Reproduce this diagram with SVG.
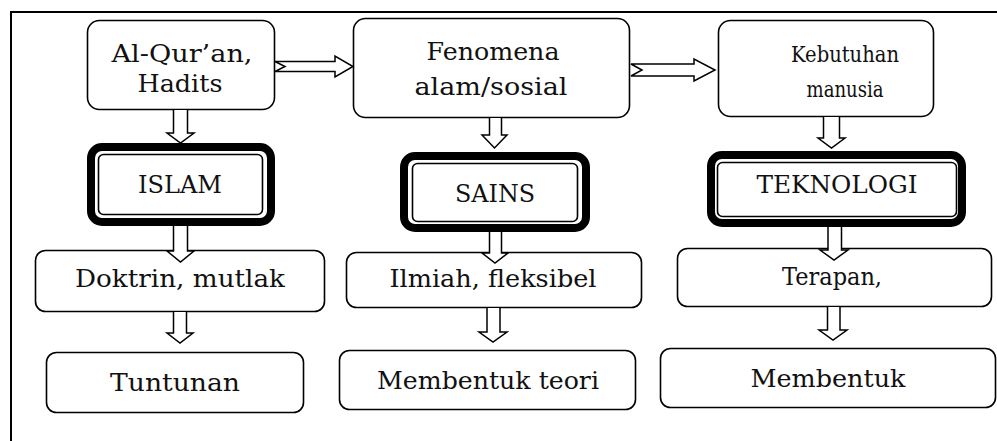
<svg xmlns="http://www.w3.org/2000/svg" width="997" height="441" viewBox="0 0 997 441">
<style>
.box{fill:#fff;stroke:#000;stroke-width:1.6}
.thick{fill:#fff;stroke:#000;stroke-width:8}
.thin{fill:none;stroke:#000;stroke-width:1.6}
.arr{fill:#fff;stroke:#000;stroke-width:1.5;stroke-linejoin:miter}
text{font-family:"DejaVu Serif","Liberation Serif",serif;font-size:25px;fill:#111;text-anchor:middle}
.sm{font-size:22px}
</style>
<rect x="0" y="0" width="997" height="441" fill="#fff"/>
<path d="M11,441 V12 H997" fill="none" stroke="#000" stroke-width="2"/>

<g id="n-alquran">
<rect class="box" x="87.5" y="20.5" width="187" height="89" rx="12"/>
<text x="182" y="62" textLength="141" lengthAdjust="spacingAndGlyphs">Al-Qur’an,</text>
<text x="180" y="92" textLength="85" lengthAdjust="spacingAndGlyphs">Hadits</text>
</g>
<g id="n-fenomena">
<rect class="box" x="353.5" y="18.5" width="276" height="99" rx="12"/>
<text x="493" y="60" textLength="133" lengthAdjust="spacingAndGlyphs">Fenomena</text>
<text x="491" y="95" textLength="153" lengthAdjust="spacingAndGlyphs">alam/sosial</text>
</g>
<g id="n-kebutuhan">
<rect class="box" x="718.5" y="20.5" width="215" height="96" rx="12"/>
<text class="sm" x="845" y="62" textLength="108" lengthAdjust="spacingAndGlyphs">Kebutuhan</text>
<text class="sm" x="845" y="97" textLength="77" lengthAdjust="spacingAndGlyphs">manusia</text>
</g>

<g id="n-islam">
<rect class="thick" x="91" y="147" width="180" height="75" rx="11"/>
<rect class="thin" x="98.5" y="154.5" width="164" height="60" rx="5"/>
<text x="180" y="193" textLength="84" lengthAdjust="spacingAndGlyphs">ISLAM</text>
</g>
<g id="n-sains">
<rect class="thick" x="404" y="156" width="182" height="72" rx="11"/>
<rect class="thin" x="412.5" y="163.5" width="165" height="58" rx="5"/>
<text x="495" y="202" textLength="80" lengthAdjust="spacingAndGlyphs">SAINS</text>
</g>
<g id="n-teknologi">
<rect class="thick" x="711" y="155" width="251" height="68" rx="11"/>
<rect class="thin" x="717.5" y="162.5" width="239" height="54" rx="5"/>
<text x="837" y="193" textLength="161" lengthAdjust="spacingAndGlyphs">TEKNOLOGI</text>
</g>

<g id="n-doktrin">
<rect class="box" x="35.5" y="250.5" width="289" height="61" rx="10"/>
<text x="180" y="287" textLength="210" lengthAdjust="spacingAndGlyphs">Doktrin, mutlak</text>
</g>
<g id="n-ilmiah">
<rect class="box" x="346.5" y="252.5" width="295" height="55" rx="10"/>
<text x="493" y="287" textLength="207" lengthAdjust="spacingAndGlyphs">Ilmiah, fleksibel</text>
</g>
<g id="n-terapan">
<rect class="box" x="677.5" y="248.5" width="314" height="58" rx="10"/>
<text x="832" y="285" textLength="100" lengthAdjust="spacingAndGlyphs">Terapan,</text>
</g>

<g id="n-tuntunan">
<rect class="box" x="46.5" y="352.5" width="257" height="60" rx="10"/>
<text x="175" y="391" textLength="130" lengthAdjust="spacingAndGlyphs">Tuntunan</text>
</g>
<g id="n-teori">
<rect class="box" x="339.5" y="350.5" width="296" height="59" rx="10"/>
<text x="488" y="389" textLength="222" lengthAdjust="spacingAndGlyphs">Membentuk teori</text>
</g>
<g id="n-membentuk">
<rect class="box" x="660.5" y="348.5" width="335" height="59" rx="10"/>
<text x="828" y="387" textLength="155" lengthAdjust="spacingAndGlyphs">Membentuk</text>
</g>

<g id="connectors">
<path class="arr" d="M275,61.5 H335 V56 L353,66.5 L335,77 V71.5 H275 L285,66.5 Z"/>
<path class="arr" d="M631,64 H694 V59 L715,70 L694,81 V76 H631 L642,70 Z"/>
<path class="arr" d="M173.5,110 V133 H167 L180.5,143 L194,133 H187.5 V110"/>
<path class="arr" d="M173.5,226 V251 H167 L180.5,262 L194,251 H187.5 V226"/>
<path class="arr" d="M173.5,312 V333 H167 L180,343 L193,333 H186.5 V312"/>
<path class="arr" d="M489.5,118 V135 H482 L494.5,148 L507,135 H501.5 V118"/>
<path class="arr" d="M489.5,232 V253 H482 L495,263 L508,253 H501.5 V232"/>
<path class="arr" d="M487,308 V332 H479 L493,342 L507,332 H500 V308"/>
<path class="arr" d="M823.5,117 V138 H818 L831.5,148 L845,138 H839.5 V117"/>
<path class="arr" d="M828,227 V250 H820 L834,260 L848,250 H841.5 V227"/>
<path class="arr" d="M827.5,307 V330 H819 L833,340 L847,330 H840 V307"/>
</g>
</svg>
